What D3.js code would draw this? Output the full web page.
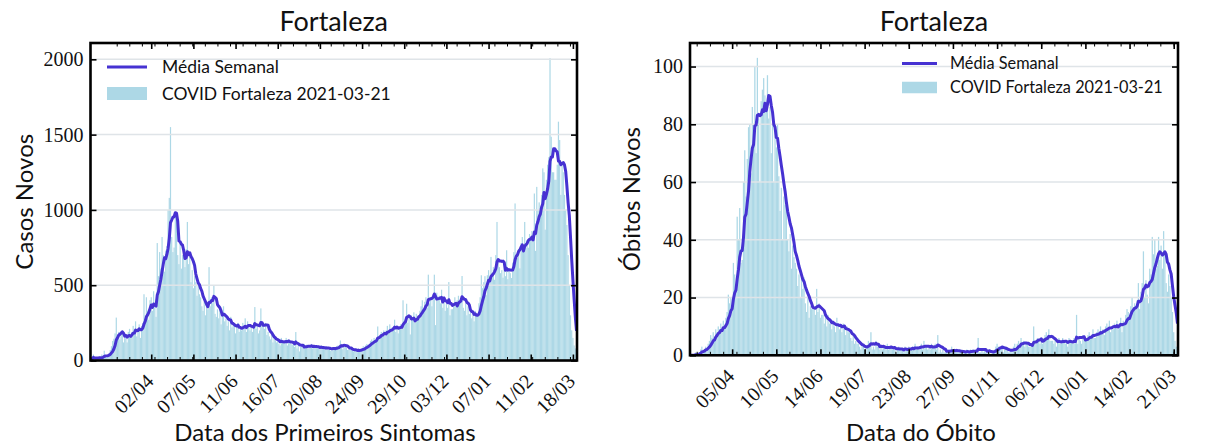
<!DOCTYPE html>
<html>
<head>
<meta charset="utf-8">
<script src="https://cdn.jsdelivr.net/npm/d3@7"></script>
<style>
  body { margin: 0; background: #fff; }
  svg { display: block; }
</style>
</head>
<body>
<svg id="chart" width="1208" height="448"></svg>
<script>
// ---- Daily new cases by date of first symptoms (Fortaleza) ----
const casesStart = "2020-02-12";
const casesDaily = [
  10, 12, 40, 5, 20, 10, 15,
  25, 15, 40, 20, 65, 30, 20,
  30, 45, 70, 95, 130, 145, 180,
  285, 150, 190, 140, 185, 200, 120,
  150, 175, 120, 190, 210, 155, 190,
  230, 180, 260, 160, 215, 240, 150,
  230, 250, 440, 300, 420, 330, 270,
  400, 420, 330, 460, 360, 290, 780,
  560, 720, 610, 820, 700, 590, 730,
  760, 1000, 1080, 1550, 820, 720, 750,
  950, 980, 700, 640, 780, 610, 700,
  690, 620, 740, 920, 640, 700, 520,
  600, 480, 560, 520, 430, 500, 440,
  420, 360, 330, 390, 300, 360, 340,
  620, 360, 420, 380, 500, 310, 290,
  340, 280, 350, 240, 300, 360, 260,
  280, 230, 260, 200, 290, 220, 240,
  230, 180, 240, 250, 190, 210, 200,
  250, 210, 280, 190, 260, 240, 200,
  220, 190, 250, 355, 210, 230, 180,
  200, 346, 240, 230, 210, 250, 170,
  190, 160, 140, 170, 120, 150, 130,
  120, 140, 110, 100, 150, 130, 110,
  130, 150, 100, 140, 120, 110, 105,
  110, 90, 189, 80, 100, 60, 90,
  100, 85, 110, 90, 105, 80, 95,
  95, 110, 80, 100, 85, 90, 85,
  90, 75, 100, 80, 85, 70, 90,
  85, 70, 90, 65, 80, 75, 88,
  80, 95, 100, 85, 133, 110, 75,
  110, 90, 85, 70, 80, 75, 70,
  65, 60, 75, 70, 55, 80, 65,
  70, 80, 95, 85, 100, 110, 100,
  110, 130, 140, 120, 150, 135, 140,
  226, 150, 170, 190, 160, 200, 165,
  200, 230, 180, 240, 190, 220, 217,
  271, 190, 230, 180, 210, 240, 220,
  400, 260, 290, 377, 250, 280, 173,
  300, 270, 320, 250, 310, 290, 290,
  330, 360, 400, 340, 390, 420, 350,
  570, 380, 420, 360, 440, 570, 235,
  450, 400, 430, 380, 470, 350, 425,
  330, 380, 350, 521, 300, 340, 341,
  360, 420, 380, 400, 430, 390, 385,
  561, 350, 330, 380, 300, 360, 309,
  320, 280, 310, 260, 330, 290, 310,
  380, 420, 566, 480, 520, 560, 434,
  566, 600, 540, 688, 580, 620, 536,
  700, 920, 650, 620, 580, 600, 550,
  640, 560, 732, 540, 600, 580, 548,
  650, 720, 1043, 700, 680, 740, 612,
  780, 820, 760, 920, 750, 800, 749,
  840, 820, 860, 790, 1109, 728, 1153,
  1000, 1050, 980, 1100, 1276, 1250, 869,
  1200, 1300, 1350, 2008, 1486, 1250, 1250,
  1200, 1200, 1300, 1586, 1464, 1100, 1300,
  1250, 1100, 1000, 900, 700, 500, 300,
  200, 150, 100, 80, 50
];
const casesTickLabels = ["02/04", "07/05", "11/06", "16/07", "20/08", "24/09",
                         "29/10", "03/12", "07/01", "11/02", "18/03"];
const casesTickDates = ["2020-04-02", "2020-05-07", "2020-06-11", "2020-07-16", "2020-08-20",
                        "2020-09-24", "2020-10-29", "2020-12-03", "2021-01-07", "2021-02-11", "2021-03-18"];
const casesYTicks = [0, 500, 1000, 1500, 2000];

// ---- Daily new deaths by date of death (Fortaleza) ----
const deathsStart = "2020-03-03";
const deathsDaily = [
  0, 0, 0, 0, 1, 0, 1,
  1, 2, 3, 1, 2, 3, 2,
  4, 5, 7, 6, 8, 5, 9,
  8, 10, 9, 11, 8, 12, 9,
  13, 15, 21, 18, 20, 17, 32,
  28, 22, 48, 40, 51, 32, 33,
  60, 71, 55, 68, 79, 80, 63,
  86, 80, 100, 70, 103, 82, 60,
  88, 92, 96, 90, 85, 97, 82,
  86, 70, 80, 60, 78, 72, 80,
  62, 50, 58, 40, 55, 52, 54,
  40, 36, 42, 30, 38, 34, 32,
  30, 24, 28, 20, 27, 23, 27,
  18, 15, 20, 13, 17, 16, 17,
  17, 14, 23, 15, 18, 13, 14,
  14, 11, 13, 10, 14, 11, 11,
  9, 12, 10, 8, 13, 11, 9,
  10, 8, 11, 9, 7, 10, 8,
  8, 6, 5, 7, 4, 5, 4,
  4, 3, 2, 4, 3, 2, 3,
  3, 5, 4, 8, 2, 3, 2,
  5, 3, 4, 2, 3, 2, 3,
  3, 2, 4, 2, 3, 3, 2,
  2, 3, 1, 2, 3, 2, 2,
  2, 1, 3, 2, 2, 3, 2,
  2, 3, 2, 4, 2, 3, 2,
  3, 4, 2, 5, 3, 3, 2,
  3, 2, 4, 3, 3, 4, 2,
  7, 1, 2, 1, 2, 1, 1,
  2, 1, 2, 1, 3, 1, 2,
  1, 2, 1, 1, 2, 1, 1,
  1, 1, 2, 1, 1, 2, 1,
  2, 1, 2, 1, 6, 1, 1,
  2, 1, 2, 1, 2, 1, 2,
  0, 1, 1, 2, 3, 4, 3,
  3, 2, 3, 1, 2, 3, 2,
  1, 1, 2, 1, 3, 4, 2,
  4, 5, 3, 6, 4, 5, 3,
  4, 4, 3, 3, 4, 3, 10,
  5, 4, 6, 5, 4, 6, 4,
  6, 7, 8, 6, 9, 5, 5,
  5, 4, 6, 3, 5, 6, 4,
  4, 6, 5, 4, 5, 3, 6,
  5, 5, 4, 6, 4, 14, 4,
  6, 5, 4, 7, 5, 6, 5,
  7, 8, 6, 7, 9, 6, 6,
  8, 9, 7, 10, 8, 9, 7,
  10, 11, 9, 12, 8, 10, 9,
  11, 10, 12, 9, 11, 13, 8,
  12, 11, 14, 16, 15, 13, 17,
  20, 15, 18, 17, 19, 25, 16,
  22, 25, 36, 20, 26, 21, 18,
  30, 28, 41, 35, 40, 30, 31,
  41, 33, 38, 30, 43, 35, 25,
  22, 28, 24, 20, 15, 8, 5,
  3, 2
];
const deathsTickLabels = ["05/04", "10/05", "14/06", "19/07", "23/08", "27/09",
                          "01/11", "06/12", "10/01", "14/02", "21/03"];
const deathsTickDates = ["2020-04-05", "2020-05-10", "2020-06-14", "2020-07-19", "2020-08-23",
                         "2020-09-27", "2020-11-01", "2020-12-06", "2021-01-10", "2021-02-14", "2021-03-21"];
const deathsYTicks = [0, 20, 40, 60, 80, 100];

const legendLabels = ["Média Semanal", "COVID Fortaleza 2021-03-21"];

// ---- styling ----
const SANS = "Lato, 'Open Sans', sans-serif";
const SERIF = "'Liberation Serif', 'DejaVu Serif', serif";
const BAR_COLOR = "#add8e6";
const LINE_COLOR = "#4632d2";
const GRID_COLOR = "#dfe4e8";
const DAY = 864e5;

const parse = d3.utcParse("%Y-%m-%d");
const svg = d3.select("#chart");

// trailing 7-day mean (shorter window at the start of the series)
function weeklyMean(vals) {
  return vals.map((_, i) => d3.mean(vals.slice(Math.max(0, i - 6), i + 1)));
}

function drawPanel(cfg) {
  const { x0, x1, top, bottom } = cfg.box;
  const t0 = parse(cfg.start);
  const dates = cfg.values.map((_, i) => new Date(+t0 + i * DAY));
  const rows = cfg.values.map((v, i) => ({ date: dates[i], value: v }));
  const avg = weeklyMean(cfg.values);

  const x = d3.scaleUtc()
    .domain([new Date(+dates[0] - 0.4 * DAY), new Date(+dates[dates.length - 1] + 0.4 * DAY)])
    .range([x0, x1]);
  const y = d3.scaleLinear()
    .domain([0, d3.max(cfg.values) * 1.05])
    .range([bottom, top]);

  const g = svg.append("g");
  const clipId = "clip-" + cfg.id;
  g.append("clipPath").attr("id", clipId)
    .append("rect").attr("x", x0).attr("y", top).attr("width", x1 - x0).attr("height", bottom - top);

  // daily bars
  g.append("g").attr("clip-path", `url(#${clipId})`)
    .selectAll("rect").data(rows).join("rect")
    .attr("x", d => x(new Date(+d.date - 0.5 * DAY)))
    .attr("width", d => x(new Date(+d.date + 0.5 * DAY)) - x(new Date(+d.date - 0.5 * DAY)))
    .attr("y", d => y(d.value))
    .attr("height", d => y(0) - y(d.value))
    .attr("fill", BAR_COLOR);

  // horizontal grid
  g.append("g").selectAll("line").data(cfg.yTicks).join("line")
    .attr("x1", x0).attr("x2", x1)
    .attr("y1", d => y(d)).attr("y2", d => y(d))
    .attr("stroke", GRID_COLOR).attr("stroke-width", 1.5);

  // weekly mean line
  const line = d3.line().x((d, i) => x(dates[i])).y(d => y(d));
  g.append("path").datum(avg)
    .attr("clip-path", `url(#${clipId})`)
    .attr("d", line)
    .attr("fill", "none").attr("stroke", LINE_COLOR)
    .attr("stroke-width", 3).attr("stroke-linejoin", "round");

  // axes
  const majors = cfg.tickDates.map(parse);
  const labelOf = new Map(majors.map((d, i) => [+d, cfg.tickLabels[i]]));
  const minors = [];
  for (let t = +t0 + cfg.minorOffset * DAY; t < +x.domain()[1]; t += cfg.minorStep * DAY) {
    if (t > +x.domain()[0]) minors.push(new Date(t));
  }

  const styleAxis = sel => {
    sel.select(".domain").remove();
    sel.selectAll(".tick line").attr("stroke", "#000");
  };

  // bottom minor + major ticks
  g.append("g").attr("transform", `translate(0,${bottom})`)
    .call(d3.axisBottom(x).tickValues(minors).tickSize(-3.5).tickFormat(""))
    .call(styleAxis).selectAll(".tick line").attr("stroke-width", 1);
  const xb = g.append("g").attr("transform", `translate(0,${bottom})`)
    .call(d3.axisBottom(x).tickValues(majors).tickSize(-6).tickFormat(d => labelOf.get(+d)))
    .call(styleAxis);
  xb.selectAll(".tick line").attr("stroke-width", 1.6);
  xb.selectAll(".tick text")
    .attr("font-family", SERIF).attr("font-size", 20).attr("fill", "#111")
    .attr("text-anchor", "end")
    .attr("y", 0).attr("dy", 0)
    .attr("transform", "translate(3,22) rotate(-45)");

  // top mirrored ticks
  g.append("g").attr("transform", `translate(0,${top})`)
    .call(d3.axisTop(x).tickValues(minors).tickSize(-3.5).tickFormat(""))
    .call(styleAxis).selectAll(".tick line").attr("stroke-width", 1);
  g.append("g").attr("transform", `translate(0,${top})`)
    .call(d3.axisTop(x).tickValues(majors).tickSize(-6).tickFormat(""))
    .call(styleAxis).selectAll(".tick line").attr("stroke-width", 1.6);

  // y axis left with labels, right mirrored
  const yl = g.append("g").attr("transform", `translate(${x0},0)`)
    .call(d3.axisLeft(y).tickValues(cfg.yTicks).tickSize(-6).tickPadding(7).tickFormat(d3.format("d")))
    .call(styleAxis);
  yl.selectAll(".tick line").attr("stroke-width", 1.6);
  yl.selectAll(".tick text")
    .attr("font-family", SERIF).attr("font-size", 20).attr("fill", "#111");
  g.append("g").attr("transform", `translate(${x1},0)`)
    .call(d3.axisRight(y).tickValues(cfg.yTicks).tickSize(-6).tickFormat(""))
    .call(styleAxis).selectAll(".tick line").attr("stroke-width", 1.6);

  // frame
  g.append("rect").attr("x", x0).attr("y", top)
    .attr("width", x1 - x0).attr("height", bottom - top)
    .attr("fill", "none").attr("stroke", "#000").attr("stroke-width", 2.6);

  // title and axis labels
  g.append("text").attr("x", (x0 + x1) / 2).attr("y", 31)
    .attr("text-anchor", "middle").attr("font-family", SANS).attr("font-size", 27)
    .attr("fill", "#111").text(cfg.title);
  g.append("text").attr("x", cfg.xLabelX).attr("y", 441)
    .attr("text-anchor", "middle").attr("font-family", SANS).attr("font-size", 24)
    .attr("fill", "#111").text(cfg.xLabel);
  g.append("text")
    .attr("transform", `translate(${cfg.yLabelX},${(top + bottom) / 2}) rotate(-90)`)
    .attr("text-anchor", "middle").attr("font-family", SANS).attr("font-size", 24)
    .attr("fill", "#111").text(cfg.yLabel);

  // legend
  const L = cfg.legend;
  const lg = g.append("g").attr("transform", `translate(${L.x},${L.y})`)
    .attr("font-family", SANS).attr("font-size", L.size).attr("fill", "#111");
  lg.append("line").attr("x1", 0).attr("x2", L.w).attr("y1", 0).attr("y2", 0)
    .attr("stroke", LINE_COLOR).attr("stroke-width", 3);
  lg.append("text").attr("x", L.w + L.gap).attr("y", 0).attr("dy", "0.35em").text(legendLabels[0]);
  lg.append("rect").attr("x", 0).attr("y", L.dy - L.h / 2).attr("width", L.w).attr("height", L.h)
    .attr("fill", BAR_COLOR);
  lg.append("text").attr("x", L.w + L.gap).attr("y", L.dy).attr("dy", "0.35em").text(legendLabels[1]);
}

drawPanel({
  id: "cases", start: casesStart, values: casesDaily,
  tickDates: casesTickDates, tickLabels: casesTickLabels, yTicks: casesYTicks,
  box: { x0: 90.5, x1: 577, top: 43, bottom: 360.5 },
  minorOffset: 21.35, minorStep: 10.45,
  title: "Fortaleza", xLabel: "Data dos Primeiros Sintomas", yLabel: "Casos Novos",
  xLabelX: 325, yLabelX: 33,
  legend: { x: 107, y: 67, w: 40, gap: 15, dy: 26.5, h: 13, size: 17.5 }
});

drawPanel({
  id: "deaths", start: deathsStart, values: deathsDaily,
  tickDates: deathsTickDates, tickLabels: deathsTickLabels, yTicks: deathsYTicks,
  box: { x0: 690, x1: 1178, top: 43, bottom: 355.3 },
  minorOffset: 4.9, minorStep: 10.5,
  title: "Fortaleza", xLabel: "Data do Óbito", yLabel: "Óbitos Novos",
  xLabelX: 921, yLabelX: 640,
  legend: { x: 902, y: 63.5, w: 35, gap: 13, dy: 24, h: 11.5, size: 16.3 }
});
</script>
</body>
</html>
